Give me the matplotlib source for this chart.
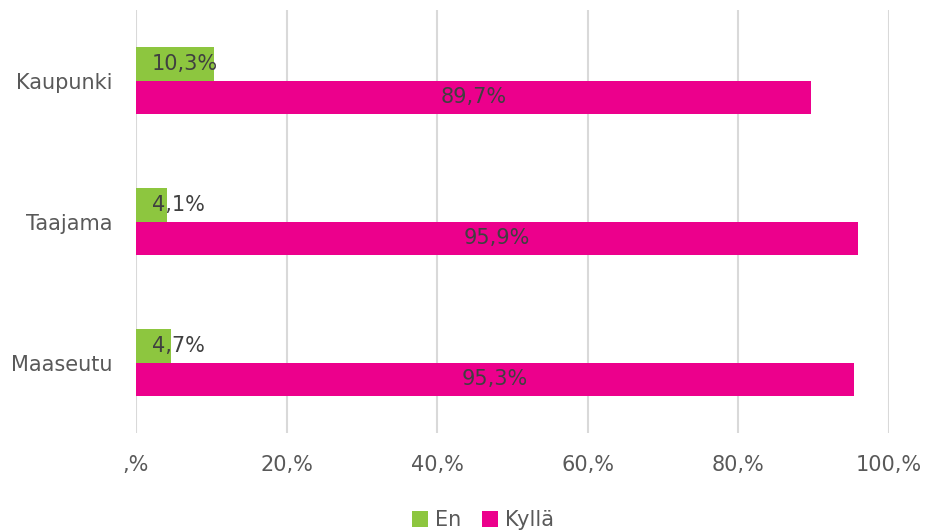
import matplotlib.pyplot as plt
import numpy as np

categories = ['Kaupunki', 'Taajama', 'Maaseutu']
en = [10.3, 4.1, 4.7]
kylla = [89.7, 95.9, 95.3]
xticks = [0, 20, 40, 60, 80, 100]
xtick_labels = [',%', '20,%', '40,%', '60,%', '80,%', '100,%']

green = '#8DC63F'
pink = '#EC008C'
txt = '#595959'

plt.rcParams['font.family'] = ['DejaVu Sans']
fig = plt.figure(figsize=(9.28, 5.30), dpi=100)
ax = fig.add_axes([136/928, 1-433/530, (889-136)/928, 423/530])

y = np.arange(len(categories))
h = 0.24
ax.barh(y - h/2, en, height=h, color=green, label='En', zorder=3)
ax.barh(y + h/2, kylla, height=h, color=pink, label='Kyllä', zorder=3)

for i in range(len(categories)):
    ax.text(2.1, y[i] - h/2, f'{en[i]:.1f}%'.replace('.', ','), ha='left', va='center',
            fontsize=15, color='#404040', zorder=4)
    ax.text(kylla[i]/2, y[i] + h/2, f'{kylla[i]:.1f}%'.replace('.', ','), ha='center', va='center',
            fontsize=15, color='#404040', zorder=4)

ax.set_ylim(2.5, -0.5)
ax.set_xlim(0, 100)
ax.set_yticks(y)
ax.set_yticklabels(categories, fontsize=15, color=txt)
ax.set_xticks(xticks)
ax.set_xticklabels(xtick_labels, fontsize=15, color=txt)
ax.tick_params(axis='both', length=0)
ax.tick_params(axis='x', pad=16)
ax.tick_params(axis='y', pad=17)
ax.grid(axis='x', color='#D9D9D9', linewidth=1.5, zorder=0)
for s in ax.spines.values():
    s.set_visible(False)

leg = fig.legend(loc='lower center', bbox_to_anchor=(0.52, -0.035), ncol=2, frameon=False,
                 fontsize=15, handlelength=0.8, handleheight=0.8, handletextpad=0.3,
                 columnspacing=1.0)
for t in leg.get_texts():
    t.set_color(txt)

fig.savefig('out.png', dpi=100)
